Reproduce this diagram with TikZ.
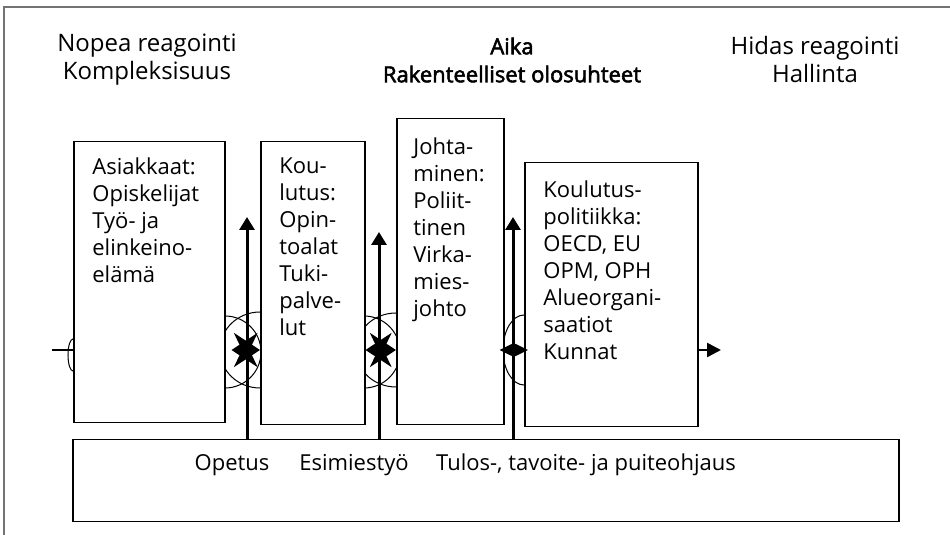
\documentclass[tikz,border=0pt]{standalone}
\usepackage{fontspec}
\setmainfont{Open Sans}
\newfontface\puolilihava{Open Sans}[FakeBold=2.5]
\usetikzlibrary{arrows.meta, calc}

\begin{document}
\begin{tikzpicture}[x=0.5pt, y=-0.5pt,
    laatikko/.style={draw, fill=white, line width=0.75pt, anchor=north west, inner sep=0pt},
    teksti/.style={anchor=north west, inner sep=0pt, align=left, font=\fontsize{11pt}{13.5pt}\selectfont},
    otsikko/.style={align=center, inner sep=0pt, font=\fontsize{12pt}{14pt}\selectfont},
    alaotsikko/.style={inner sep=0pt, font=\fontsize{11pt}{13.5pt}\selectfont},
    kaari/.style={line width=0.5pt},
    nuoli/.style={-{Triangle[length=6.5pt, width=7.5pt]}, line width=1.5pt},
    tahti/.style={{Stealth[length=13pt, width=17pt, inset=4pt]}-{Stealth[length=13pt, width=17pt, inset=4pt]}, line width=1.5pt},
    ]
    \useasboundingbox (0,0) rectangle (950,535);

    % kehys
    \draw[black!55, line width=0.6pt] (4,535) -- (4,7) -- (950,7);

    % otsikot
    \node[otsikko] (nopea) at (147,60) {Nopea reagointi\\Kompleksisuus};
    \node[otsikko, font=\fontsize{11pt}{14pt}\puolilihava] (aika) at (512,60)
      {Aika\\Rakenteelliset olosuhteet};
    \node[otsikko] (hidas) at (815,60) {Hidas reagointi\\Hallinta};

    \coordinate (vasen) at (52,350);
    \coordinate (oikea) at (721,350);

    % kaaret laatikoiden reunoilla (jaavat osin laatikoiden alle)
    \draw[kaari] (73,355) ellipse [x radius=2.5pt, y radius=8pt];
    \draw[kaari] (225,352) ellipse [x radius=18pt, y radius=18pt];
    \draw[kaari] (260,350) ellipse [x radius=20pt, y radius=19pt];
    \draw[kaari] (364,352) ellipse [x radius=18pt, y radius=18pt];
    \draw[kaari] (396,350) ellipse [x radius=20pt, y radius=18.5pt];
    \draw[kaari] (524,350) ellipse [x radius=10.5pt, y radius=17.5pt];

    % laatikot
    \node[laatikko, minimum width=75.5pt, minimum height=140.5pt] (asiakkaat) at (73,141) {};
    \node[laatikko, minimum width=52pt, minimum height=141.5pt] (koulutus) at (260,141) {};
    \node[laatikko, minimum width=53.5pt, minimum height=153pt] (johtaminen) at (396,118) {};
    \node[laatikko, minimum width=86.5pt, minimum height=132pt] (politiikka) at (524,162) {};
    \node[laatikko, minimum width=413pt, minimum height=41pt] (ohjaus) at (72,439) {};

    \node[teksti] (asiakkaat-t) at ($(asiakkaat.north west)+(19,16)$)
      {Asiakkaat:\\Opiskelijat\\Työ- ja\\elinkeino-\\elämä};
    \node[teksti] (koulutus-t) at ($(koulutus.north west)+(19,16)$)
      {Kou-\\lutus:\\Opin-\\toalat\\Tuki-\\palve-\\lut};
    \node[teksti] (johtaminen-t) at ($(johtaminen.north west)+(17,19)$)
      {Johta-\\minen:\\Poliit-\\tinen\\Virka-\\mies-\\johto};
    \node[teksti] (politiikka-t) at ($(politiikka.north west)+(19,18)$)
      {Koulutus-\\politiikka:\\OECD, EU\\OPM, OPH\\Alueorgani-\\saatiot\\Kunnat};

    \node[alaotsikko] (opetus) at (232,465) {Opetus};
    \node[alaotsikko] (esimiestyo) at (354,465) {Esimiestyö};
    \node[alaotsikko] (tulos) at (586,465) {Tulos-, tavoite- ja puiteohjaus};

    % ylospain osoittavat nuolet
    \coordinate (ylos1) at (247,217);
    \coordinate (ylos2) at (379,232);
    \coordinate (ylos3) at (513,217);
    \foreach \i in {1,...,3}{
      \draw[nuoli] (ylos\i |- ohjaus.north) -- (ylos\i);
    }

    % vaakasuorat yhteydet
    \draw[line width=1.25pt] (vasen) -- (vasen -| asiakkaat.west);
    \draw[tahti, shorten <=3pt] (vasen -| asiakkaat.east) -- (vasen -| koulutus.west);
    \draw[tahti] (vasen -| koulutus.east) -- (vasen -| johtaminen.west);
    \draw[{Triangle[length=7.5pt, width=7pt]}-{Triangle[length=7.5pt, width=7pt]},
      line width=1.25pt, shorten <=-2.5pt, shorten >=-2pt]
      (vasen -| johtaminen.east) -- (vasen -| politiikka.west);
    \draw[-{Triangle[length=7pt, width=7pt]}, line width=1.25pt]
      (vasen -| politiikka.east) -- (oikea);
\end{tikzpicture}
\end{document}
